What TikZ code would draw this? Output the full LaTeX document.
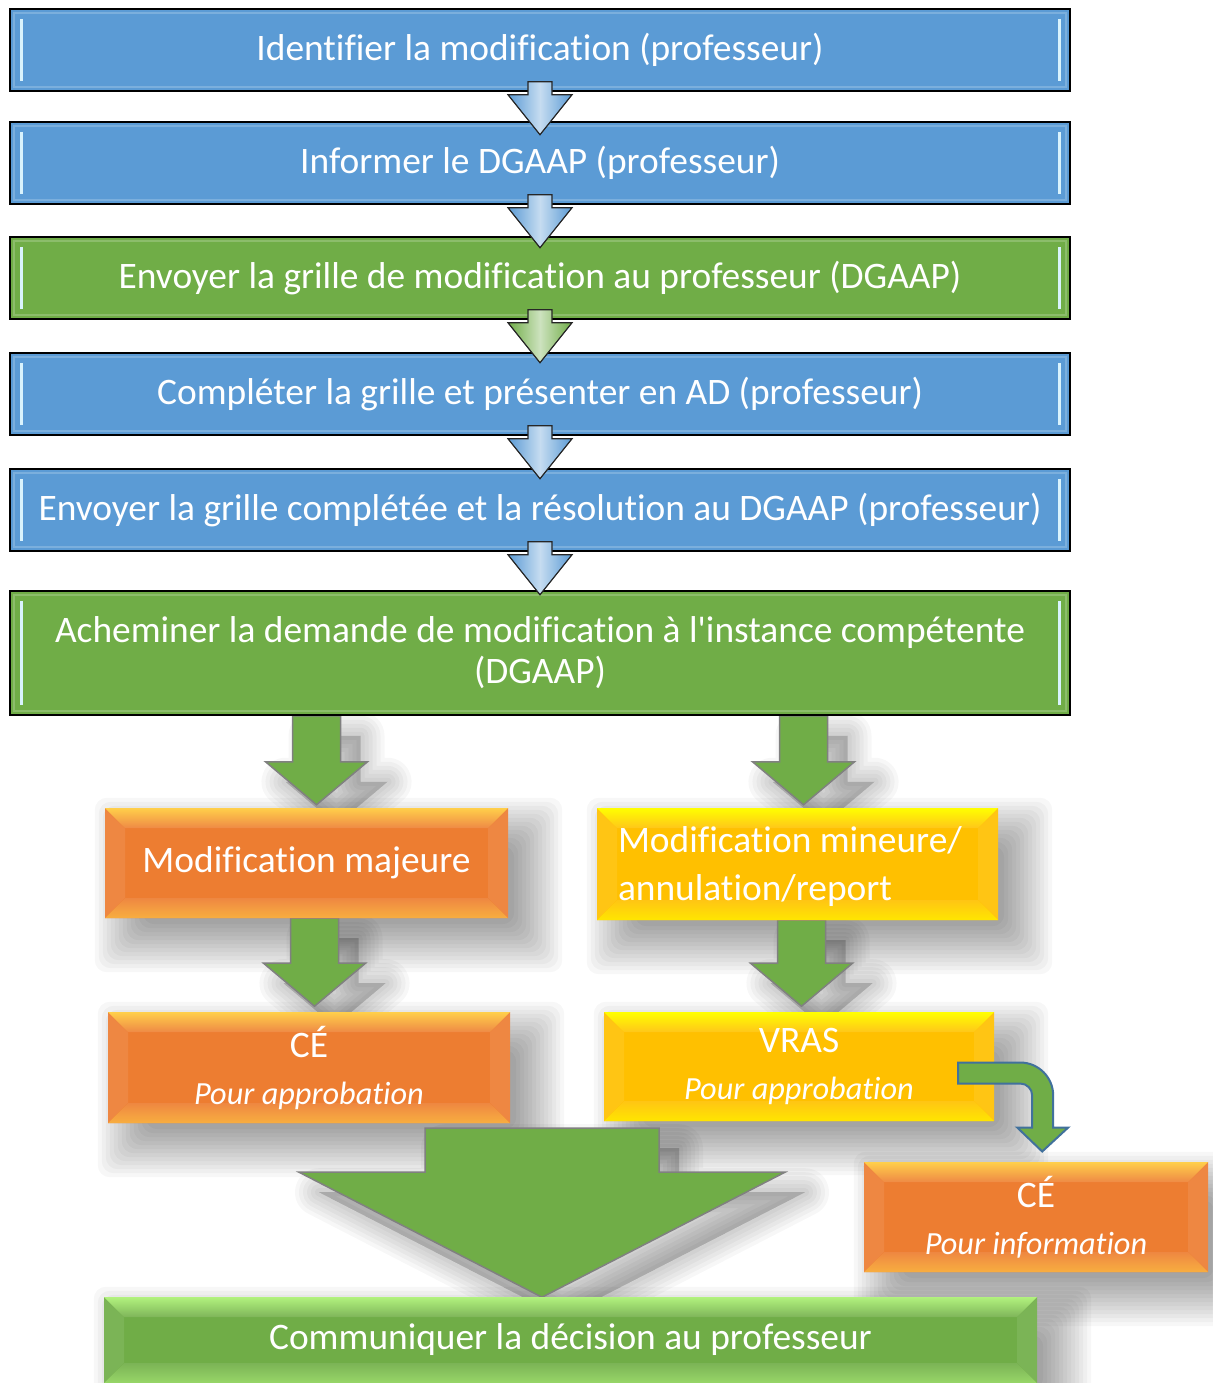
\documentclass[tikz,border=0pt]{standalone}
\usepackage{fontspec}
\setmainfont[Ligatures=NoCommon]{Carlito}
\usetikzlibrary{calc}
\pgfdeclarelayer{background}
\pgfsetlayers{background,main}

\definecolor{bluebox}{HTML}{5B9BD5}
\definecolor{greenbox}{HTML}{70AD47}
\definecolor{greenlight}{HTML}{B2F27E}
\definecolor{orangebox}{HTML}{ED7D31}
\definecolor{orangelight}{HTML}{FFCF4A}
\definecolor{yellowbox}{HTML}{FFC000}
\definecolor{yellowlight}{HTML}{FFFF00}
\definecolor{bentline}{HTML}{41719C}

% block arrow: start, length, half shaft, half head, head length
\newcommand\blockarr[6][]{%
  \draw[#1] ($#2+(-#4,0)$) -- ++(0,#3-#6) -- ++(#4-#5,0) -- ++(#5,#6)
    -- ++(#5,-#6) -- ++(#4-#5,0) -- ++(0,#6-#3) -- cycle;}
% green arrow with a soft shadow
\newcommand\greenarr[5]{%
  \foreach \w in {48,40,32,24,16,8} {\blockarr[shadowpass=\w]{#1+(20,20)}{#2}{#3}{#4}{#5}}
  \blockarr[bigarr]{#1}{#2}{#3}{#4}{#5}}
\newcommand\subline[1]{{\fontsize{32.3}{38}\selectfont\itshape #1}}

\begin{document}
\begin{tikzpicture}[x=1pt,y=-1pt,
  every node/.style={text=white,inner sep=0pt,font=\fontsize{37.4}{44}\selectfont},
  topbox/.style={draw=black,line width=1.5pt,fill=#1,minimum width=1060pt,minimum height=82pt,
    path picture={
      \draw[white,opacity=.2,line width=2pt] ([shift={(4,4)}]path picture bounding box.north west) rectangle ([shift={(-4,-4)}]path picture bounding box.south east);
      \draw[cyan!15!white,line width=3pt] ([shift={(11,10)}]path picture bounding box.north west) -- ([shift={(11,-10)}]path picture bounding box.south west);
      \draw[cyan!15!white,line width=3pt] ([shift={(-11,10)}]path picture bounding box.north east) -- ([shift={(-11,-10)}]path picture bounding box.south east);}},
  bevelbox/.style 2 args={fill=#1,
    path picture={
      \coordinate (pnw) at (path picture bounding box.north west);
      \coordinate (pne) at (path picture bounding box.north east);
      \coordinate (psw) at (path picture bounding box.south west);
      \coordinate (pse) at (path picture bounding box.south east);
      \fill[#1!92!white] (pnw) -- ([shift={(20,20)}]pnw) -- ([shift={(20,-20)}]psw) -- (psw) -- cycle;
      \fill[#1!92!white] (pne) -- ([shift={(-20,20)}]pne) -- ([shift={(-20,-20)}]pse) -- (pse) -- cycle;
      \fill[top color=#2,bottom color=#1!90!white] (pnw) -- (pne) -- ([shift={(-20,20)}]pne) -- ([shift={(20,20)}]pnw) -- cycle;
      \fill[top color=#1!92!white,bottom color=#2!60!#1] (psw) -- (pse) -- ([shift={(-20,-20)}]pse) -- ([shift={(20,-20)}]psw) -- cycle;}},
  shadowpass/.style={draw=black,fill=black,opacity=.03,line width=#1pt,line join=round},
  smallarr/.style={draw=black!85,line width=1.2pt,left color=#1,right color=#1,middle color=#1!35!white},
  bigarr/.style={draw=black!50,line width=1.5pt,fill=greenbox},
  bentarr/.style={draw=bentline,line width=2pt,fill=greenbox}]

  \useasboundingbox (0,0) rectangle (1212,1383);

  % steps
  \node[topbox=bluebox] (ident) at (540,50) {Identifier la modification (professeur)};
  \node[topbox=bluebox] (inform) at (540,163) {Informer le DGAAP (professeur)};
  \node[topbox=greenbox] (envgrille) at (540,278) {Envoyer la grille de modification au professeur (DGAAP)};
  \node[topbox=bluebox] (complet) at (540,394) {Compléter la grille et présenter en AD (professeur)};
  \node[topbox=bluebox] (envres) at (540,510) {Envoyer la grille complétée et la résolution au DGAAP (professeur)};
  \node[topbox=greenbox,minimum height=124pt,align=center,font=\fontsize{37.4}{41}\selectfont] (achem) at (540,653)
    {Acheminer la demande de modification à l\textquotesingle instance compétente\\(DGAAP)};

  \blockarr[smallarr=bluebox]{(ident.south)+(0,-10)}{53}{12}{32}{40}
  \blockarr[smallarr=bluebox]{(inform.south)+(0,-10)}{53}{12}{32}{40}
  \blockarr[smallarr=greenbox]{(envgrille.south)+(0,-10)}{53}{12}{32}{40}
  \blockarr[smallarr=bluebox]{(complet.south)+(0,-10)}{53}{12}{32}{40}
  \blockarr[smallarr=bluebox]{(envres.south)+(0,-10)}{53}{12}{32}{40}

  % instances
  \node[bevelbox={orangebox}{orangelight},minimum width=403pt,minimum height=110pt] (majeure) at (306.5,863) {Modification majeure};
  \node[bevelbox={yellowbox}{yellowlight},minimum width=401pt,minimum height=112pt] (mineure) at (797.5,864) {};
  \node[anchor=west,align=flush left,font=\fontsize{37.4}{48}\selectfont] (mineuretxt) at ($(mineure.west)+(21,3)$)
    {Modification mineure/\\annulation/report};
  \node[bevelbox={orangebox}{orangelight},minimum width=402pt,minimum height=111pt,align=center,font=\fontsize{37.4}{47}\selectfont] (ceappro) at (309,1067.5)
    {CÉ\\\subline{Pour approbation}};
  \node[bevelbox={yellowbox}{yellowlight},minimum width=390pt,minimum height=109pt,align=center,font=\fontsize{37.4}{47}\selectfont] (vras) at (799,1066.5)
    {VRAS\\\subline{Pour approbation}};
  \node[bevelbox={orangebox}{orangelight},minimum width=344pt,minimum height=110pt,align=center,font=\fontsize{37.4}{47}\selectfont] (ceinfo) at (1036,1217)
    {CÉ\\\subline{Pour information}};
  \node[bevelbox={greenbox}{greenlight},minimum width=933pt,minimum height=86pt] (commun) at (570.5,1340)
    {Communiquer la décision au professeur};

  \begin{pgfonlayer}{background}
    \fill[white] (0,0) rectangle (1212,1383);
    \foreach \n in {majeure,mineure,ceappro,vras,ceinfo,commun}
      \foreach \d in {-16,-12,...,32}
        \fill[black,opacity=.032,rounded corners=12pt] ($(\n.north west)+(22-\d,22-\d)$) rectangle ($(\n.south east)+(22+\d,22+\d)$);
    \greenarr{(majeure.north |- achem.south)+(10,0)}{89}{24}{51}{43}
    \greenarr{(majeure.north |- achem.south)+(497,0)}{89}{24}{51}{43}
    \greenarr{(majeure.south)+(8,0)}{88}{24}{51}{43}
    \greenarr{(majeure.south)+(495,2)}{86}{24}{51}{43}
    \greenarr{(ceappro.south)+(233,5)}{169}{117}{243}{125}
  \end{pgfonlayer}

  \draw[bentarr] ($(vras.east)+(-36,-4)$) -- ++(62,0) arc[start angle=-90,end angle=0,radius=33]
    -- ++(0,32) -- ++(15,0) -- ++(-26,24) -- ++(-25,-24) -- ++(15,0) -- ++(0,-32)
    arc[start angle=0,end angle=-90,radius=12] -- ++(-62,0) -- cycle;
\end{tikzpicture}
\end{document}
